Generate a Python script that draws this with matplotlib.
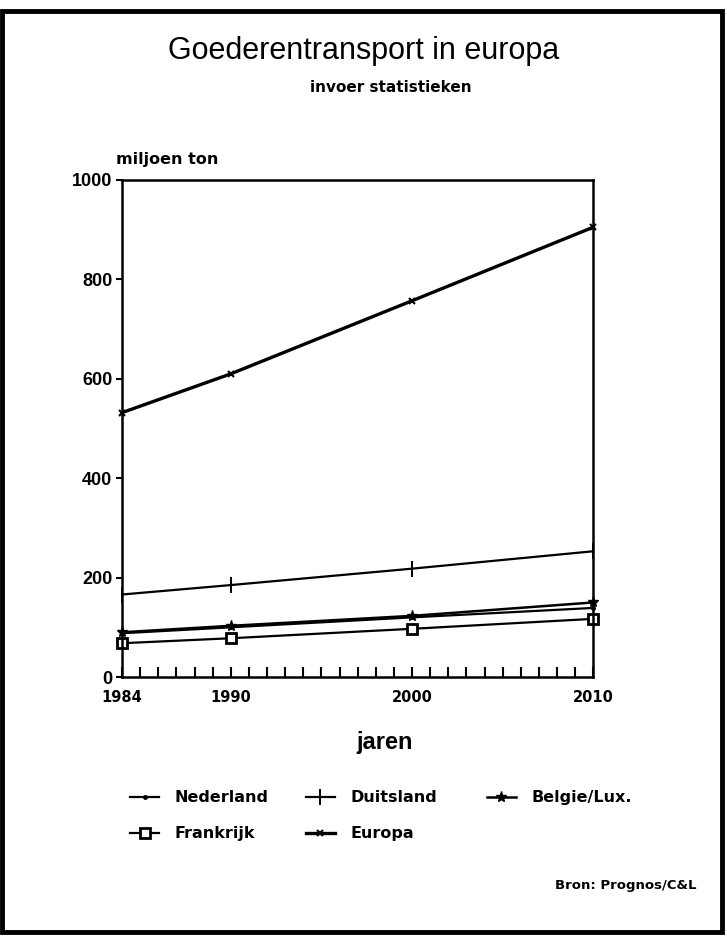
import matplotlib
matplotlib.use("Agg")
import matplotlib.pyplot as plt
from matplotlib.patches import Rectangle
from matplotlib.ticker import MultipleLocator

plt.rcParams['font.family'] = ['Liberation Sans', 'DejaVu Sans']
WIDE = ['DejaVu Sans']

years = [1984, 1990, 2000, 2010]
nederland = [88, 100, 120, 139]
duitsland = [166, 185, 218, 253]
belgie_lux = [90, 103, 123, 150]
frankrijk = [68, 78, 97, 117]
europa = [532, 610, 757, 905]

styles = {
    "Nederland": (nederland, dict(marker='.', markersize=5, lw=1.6)),
    "Duitsland": (duitsland, dict(marker='|', markersize=11, mew=1.4, lw=1.6)),
    "Belgie/Lux.": (belgie_lux, dict(marker='*', markersize=8, lw=1.8)),
    "Frankrijk": (frankrijk, dict(marker='s', markersize=7, mfc='white', mew=2, lw=1.6)),
    "Europa": (europa, dict(marker='x', markersize=5, mew=1.5, lw=2.4)),
}

fig = plt.figure(figsize=(7.27, 9.36), dpi=100)
ax = fig.add_axes([0.168, 0.2767, 0.648, 0.531])

handles = {}
for name, (vals, style) in styles.items():
    handles[name], = ax.plot(years, vals, color='black', label=name,
                             clip_on=False, **style)

ax.set_xlim(1984, 2010)
ax.set_ylim(0, 1000)
ax.set_xticks(years)
ax.xaxis.set_minor_locator(MultipleLocator(1))
ax.yaxis.set_major_locator(MultipleLocator(200))
ax.tick_params(axis='x', which='both', direction='in', length=7, width=1.5,
               pad=9, labelsize=10.5)
ax.tick_params(axis='y', which='major', direction='out', length=4, width=1.5,
               pad=3, labelsize=13)
for lab in ax.get_xticklabels():
    lab.set_fontweight('bold')
    lab.set_family(WIDE)
for lab in ax.get_yticklabels():
    lab.set_fontweight('bold')
for sp in ax.spines.values():
    sp.set_linewidth(1.8)

ax.text(-0.012, 1.026, "miljoen ton", transform=ax.transAxes, fontsize=11.5,
        fontweight='bold', family=WIDE, ha='left', va='bottom')
ax.set_xlabel("jaren", fontsize=17, fontweight='bold', labelpad=22)
ax.xaxis.set_label_coords(0.558, -0.108)

fig.text(0.5, 0.946, "Goederentransport in europa", fontsize=22,
         ha='center', va='center')
fig.text(0.537, 0.906, "invoer statistieken", fontsize=11,
         fontweight='bold', family=WIDE, ha='center', va='center')

# legend laid out as three separate columns
columns = [(["Nederland", "Frankrijk"], 0.179),
           (["Duitsland", "Europa"], 0.421),
           (["Belgie/Lux."], 0.670)]
for names, x0 in columns:
    leg = fig.legend([handles[n] for n in names], names, loc='upper left',
                     bbox_to_anchor=(x0, 0.1555), frameon=False,
                     borderpad=0, borderaxespad=0,
                     handlelength=1.8, handletextpad=1.0,
                     labelspacing=1.3,
                     prop=dict(size=11.5, weight='bold', family=WIDE))

fig.text(0.958, 0.054, "Bron: Prognos/C&L", fontsize=9.5, fontweight='bold',
         family=WIDE, ha='right', va='center')

fig.patches.append(Rectangle((0.003, 0.004), 0.990, 0.984,
                             transform=fig.transFigure, fill=False,
                             edgecolor='black', linewidth=3.5))

fig.savefig("out.png", dpi=100, facecolor='white')
